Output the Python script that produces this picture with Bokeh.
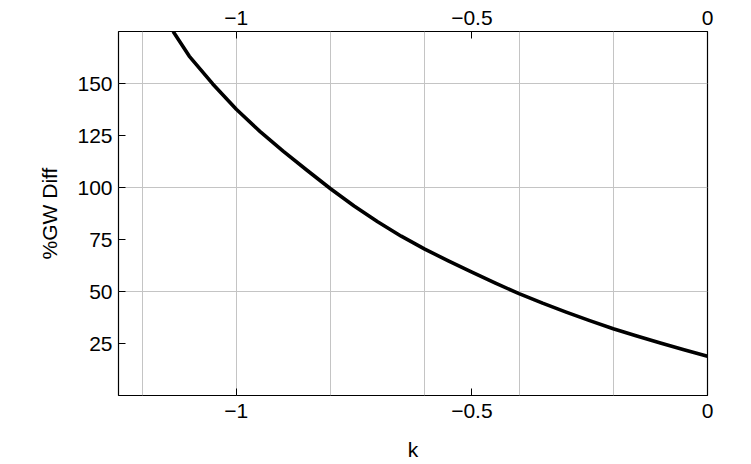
from bokeh.plotting import figure
from bokeh.models import Range1d, LinearAxis, FixedTicker
from bokeh.embed import file_html
from bokeh.resources import INLINE

# ---- data ----
k_vals = [-1.134, -1.10, -1.05, -1.00, -0.95, -0.90, -0.85, -0.80, -0.75, -0.70,
          -0.65, -0.60, -0.55, -0.50, -0.45, -0.40, -0.35, -0.30, -0.25, -0.20,
          -0.15, -0.10, -0.05, 0.00]
gw_diff = [175.0, 163.2, 149.8, 137.6, 127.0, 117.4, 108.3, 99.4, 91.1, 83.5,
           76.6, 70.4, 64.7, 59.3, 54.0, 49.0, 44.4, 40.1, 36.0, 32.1,
           28.6, 25.2, 22.0, 18.9]

x_ticks = [-1.0, -0.5, 0.0]
x_tick_labels = ["\u22121", "\u22120.5", "0"]
x_grid_lines = [-1.2, -1.0, -0.8, -0.6, -0.4, -0.2, 0.0]
y_ticks = [25, 50, 75, 100, 125, 150]
y_grid_lines = [50, 100, 150]
x_label = "k"
y_label = "%GW Diff"

FONT = "Liberation Sans"
FS = "21px"

p = figure(frame_width=589, frame_height=364,
           x_range=Range1d(-1.25, 0.0), y_range=Range1d(0, 175),
           output_backend="svg", toolbar_location=None,
           min_border_left=118, min_border_right=36,
           min_border_top=31, min_border_bottom=64,
           x_axis_location="below", y_axis_location="left")

p.background_fill_color = "white"
p.border_fill_color = "white"
p.outline_line_color = "black"
p.outline_line_width = 1.2
p.outline_line_alpha = 1.0

overrides = {t: l for t, l in zip(x_ticks, x_tick_labels)}


def style_axis(ax):
    ax.axis_line_color = None
    ax.major_tick_in = 7
    ax.major_tick_out = 0
    ax.major_tick_line_color = "black"
    ax.major_tick_line_width = 1
    ax.minor_tick_line_color = None
    ax.major_label_text_font = FONT
    ax.major_label_text_font_size = FS
    ax.major_label_text_color = "black"
    ax.axis_label_text_font = FONT
    ax.axis_label_text_font_size = FS
    ax.axis_label_text_font_style = "normal"
    ax.axis_label_text_color = "black"


xa = p.xaxis[0]
xa.ticker = FixedTicker(ticks=x_ticks)
xa.major_label_overrides = overrides
style_axis(xa)
xa.major_label_standoff = 8
xa.axis_label = x_label
xa.axis_label_standoff = 17

ya = p.yaxis[0]
ya.ticker = FixedTicker(ticks=y_ticks)
style_axis(ya)
ya.major_label_standoff = 6
ya.axis_label = y_label
ya.axis_label_standoff = 13

top = LinearAxis(ticker=FixedTicker(ticks=x_ticks))
top.major_label_overrides = overrides
style_axis(top)
top.major_label_standoff = 7
p.add_layout(top, "above")

p.xgrid.ticker = FixedTicker(ticks=x_grid_lines)
p.ygrid.ticker = FixedTicker(ticks=y_grid_lines)
for g in (p.xgrid[0], p.ygrid[0]):
    g.grid_line_color = "#c4c4c4"
    g.grid_line_width = 1
    g.grid_line_alpha = 1.0

p.line(k_vals, gw_diff, line_color="black", line_width=3.6, line_join="round")

open("out.html", "w").write(file_html(p, INLINE))
